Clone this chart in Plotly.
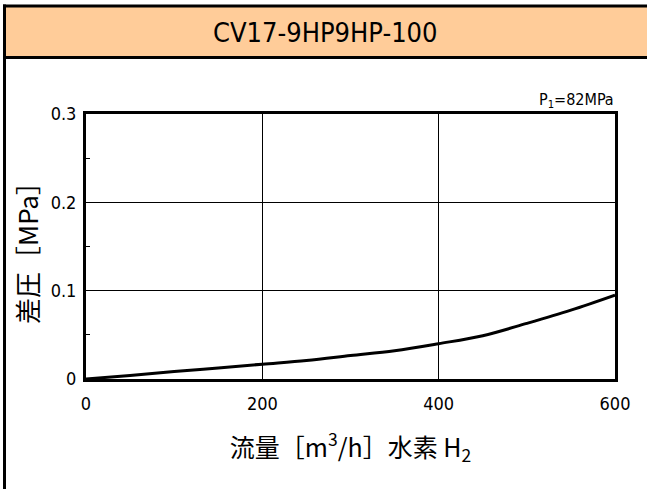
import plotly.graph_objects as go

flow = [0, 50, 100, 150, 200, 250, 300, 350, 400, 450, 500, 550, 600]
dp = [0, 0.004, 0.0085, 0.0125, 0.0168, 0.021, 0.0265, 0.032, 0.040, 0.049, 0.063, 0.078, 0.095]
x_ticks = [0, 200, 400, 600]
y_ticks = [0, 0.1, 0.2, 0.3]
y_tick_text = ["0", "0.1", "0.2", "0.3"]
title_text = "CV17-9HP9HP-100"
pressure_note = "P<sub>1</sub>=82MPa"
x_title = "流量［m<sup>3</sup>/h］水素 H<sub>2</sub>"
y_title = "差圧［MPa］"

W, H = 647, 489
L, R, T, B = 86, 615, 114, 379
FONT = "DejaVu Sans Condensed, Liberation Sans, Noto Sans CJK JP"
CJK = "Noto Sans CJK JP, DejaVu Sans Condensed"

def px(x):
    return (x - L) / (R - L)

def py(y):
    return (B - y) / (B - T)

fig = go.Figure()
fig.add_trace(go.Scatter(x=flow, y=dp, mode="lines", line=dict(color="black", width=3, shape="spline"),
                         hoverinfo="skip", showlegend=False))

shapes = [
    dict(type="rect", xref="paper", yref="paper", x0=px(6), x1=px(650), y0=py(56), y1=py(7),
         fillcolor="#FFCC99", line=dict(width=0), layer="below"),
    dict(type="line", xref="paper", yref="paper", x0=px(3), x1=px(650), y0=py(6), y1=py(6),
         line=dict(color="black", width=3)),
    dict(type="line", xref="paper", yref="paper", x0=px(3), x1=px(650), y0=py(57.5), y1=py(57.5),
         line=dict(color="black", width=3)),
    dict(type="line", xref="paper", yref="paper", x0=px(4.5), x1=px(4.5), y0=py(4.5), y1=py(492),
         line=dict(color="black", width=3)),
]

annotations = [
    dict(text=title_text, xref="paper", yref="paper", x=px(325), y=py(32), showarrow=False,
         font=dict(family=FONT, size=27, color="black"), xanchor="center", yanchor="middle"),
    dict(text=pressure_note, xref="paper", yref="paper", x=px(616), y=py(100), showarrow=False,
         font=dict(family=FONT, size=16, color="black"), xanchor="right", yanchor="middle"),
]

fig.update_layout(
    width=W, height=H,
    margin=dict(l=L, r=W - R, t=T, b=H - B, pad=0),
    paper_bgcolor="white", plot_bgcolor="white",
    shapes=shapes, annotations=annotations,
    font=dict(family=FONT, color="black"),
    xaxis=dict(range=[0, 600], tickvals=x_ticks, showgrid=True, gridcolor="black", gridwidth=1.3,
               showline=True, linecolor="black", linewidth=3, mirror=True, zeroline=False,
               ticks="", tickfont=dict(family=FONT, size=18), ticklabelstandoff=6,
               title=dict(text=x_title, font=dict(family=CJK, size=25), standoff=27)),
    yaxis=dict(range=[0, 0.3], tickvals=y_ticks, ticktext=y_tick_text, showgrid=True, gridcolor="black",
               gridwidth=1.3, showline=True, linecolor="black", linewidth=3, mirror=True, zeroline=False,
               ticks="", tickfont=dict(family=FONT, size=18), ticklabelstandoff=3,
               minor=dict(tickvals=[0.05, 0.15, 0.25], ticks="inside", ticklen=4, tickcolor="black", tickwidth=1),
               title=dict(text=y_title, font=dict(family=CJK, size=26), standoff=5)),
)

fig.write_html("out.html", config={"displayModeBar": False},
               post_script="document.body.style.margin='0';document.body.style.overflow='hidden';")
